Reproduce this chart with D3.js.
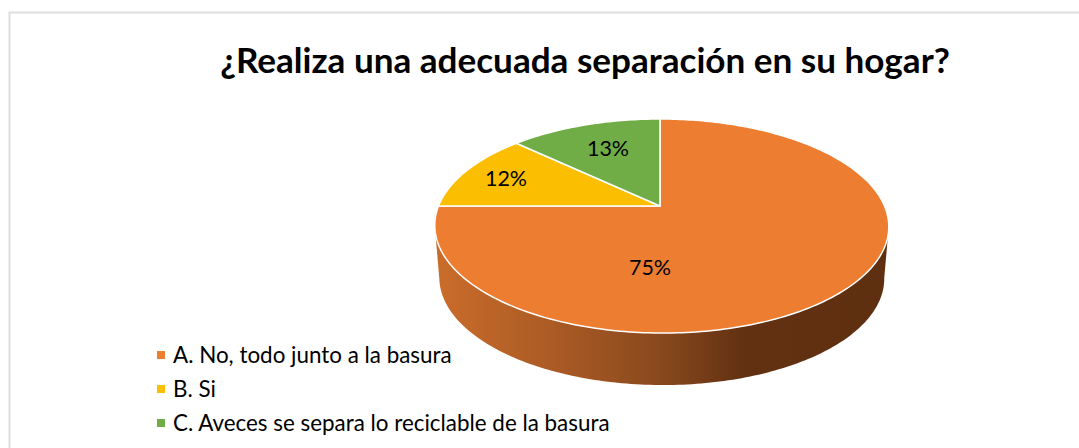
<!DOCTYPE html>
<html>
<head>
<meta charset="utf-8">
<style>
  body { margin: 0; background: #fff; }
  svg { display: block; }
  text { font-family: Lato, "Noto Sans", sans-serif; fill: #000; }
</style>
<script src="https://d3js.org/d3.v7.min.js"></script>
</head>
<body>
<svg width="1079" height="448"></svg>
<script>
  var title = "¿Realiza una adecuada separación en su hogar?";
  var categories = ["A. No, todo junto a la basura", "B. Si", "C. Aveces se separa lo reciclable de la basura"];
  var values = [75, 12, 13];
  var colors = ["#ED7D31", "#FBBE00", "#70AD47"];

  var svg = d3.select("svg");

  // frame, only top and left are visible
  svg.append("path")
     .attr("d", "M9.5,448V12.5H1079")
     .attr("fill", "none")
     .attr("stroke", "#dedede")
     .attr("stroke-width", 2);

  svg.append("text")
     .attr("x", 585)
     .attr("y", 73)
     .attr("text-anchor", "middle")
     .attr("font-size", 35.1)
     .attr("font-weight", "bold")
     .text(title);

  // the pie is tilted in perspective, so the center sits above the middle of the ellipse
  var cx = 660, cy = 206, rx = 223, ry = 103.3, k = -0.187;

  function project(angle, f) {
    var u = Math.sin(angle) * f,
        v = -Math.cos(angle) * f,
        w = 1 + k * v;
    return [cx + 1.5 * (f + v) + rx * u / w, cy + ry * v / w];
  }

  var pie = d3.pie().sort(null).value(function(d) { return d; });
  var arcs = pie(values);

  var line = d3.line();
  var step = Math.PI / 180;

  // side wall
  var defs = svg.append("defs");
  var grad = defs.append("linearGradient")
     .attr("id", "wall")
     .attr("gradientUnits", "userSpaceOnUse")
     .attr("x1", 437).attr("x2", 888).attr("y1", 0).attr("y2", 0);
  [[0, "#ca6c2b"], [0.27, "#a95a24"], [0.5, "#88481d"], [0.68, "#623111"], [1, "#5e2f10"]].forEach(function(s) {
    grad.append("stop").attr("offset", s[0]).attr("stop-color", s[1]);
  });

  // wall runs between the widest points of the rim
  var wallDepth = 52, wallScale = 0.98;
  var topEdge = d3.range(Math.PI * 0.56, Math.PI * 1.44, step).map(function(a) { return project(a, 1); });
  var lowEdge = topEdge.slice().reverse().map(function(p) {
    return [662 + (p[0] - 662) * wallScale, p[1] + wallDepth];
  });
  svg.append("path")
     .attr("d", line(topEdge.concat(lowEdge)) + "Z")
     .attr("fill", "url(#wall)");

  // slices
  svg.selectAll(".slice")
     .data(arcs)
     .enter()
     .append("path")
     .attr("class", "slice")
     .attr("d", function(d) {
       var pts = d3.range(d.startAngle, d.endAngle, step).map(function(a) { return project(a, 1); });
       pts.push(project(d.endAngle, 1));
       return line([[cx, cy]].concat(pts)) + "Z";
     })
     .attr("fill", function(d, i) { return colors[i]; })
     .attr("stroke", "#fff")
     .attr("stroke-width", 1.5)
     .attr("stroke-linejoin", "round");

  // labels sit where the original placed them, offsets from the pie center
  var labelOffset = [[-10, 61], [-154, -28], [-52, -58]];
  svg.selectAll(".label")
     .data(arcs)
     .enter()
     .append("text")
     .attr("class", "label")
     .attr("x", function(d, i) { return cx + labelOffset[i][0]; })
     .attr("y", function(d, i) { return cy + labelOffset[i][1] + 7.5; })
     .attr("text-anchor", "middle")
     .attr("font-size", 21.5)
     .text(function(d) { return d.value + "%"; });

  // legend
  var legendY = d3.scalePoint().domain(categories).range([355, 423]);
  var legend = svg.selectAll(".legend")
     .data(categories)
     .enter()
     .append("g")
     .attr("class", "legend")
     .attr("transform", function(d) { return "translate(157," + legendY(d) + ")"; });
  legend.append("rect")
     .attr("y", -4)
     .attr("width", 8)
     .attr("height", 8)
     .attr("fill", function(d, i) { return colors[i]; });
  legend.append("text")
     .attr("x", 16)
     .attr("y", 7.5)
     .attr("font-size", 22.4)
     .text(function(d) { return d; });
</script>
</body>
</html>
